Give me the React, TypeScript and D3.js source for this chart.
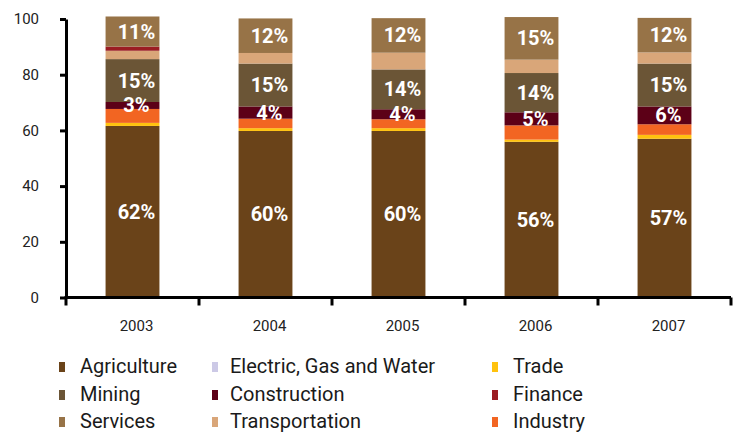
import React, { useEffect, useRef } from "react";
import * as d3 from "d3";

// values (% share of each sector per year)
const years = ["2003", "2004", "2005", "2006", "2007"];
const agriculture = [61.6, 59.8, 59.8, 55.9, 57.0];
const trade = [1.1, 1.0, 1.0, 0.8, 1.4];
const electricGasWater = [0, 0, 0, 0, 0];
const industry = [5.0, 3.4, 3.2, 5.1, 3.8];
const construction = [2.5, 4.4, 3.6, 4.7, 6.4];
const mining = [15.4, 15.4, 14.3, 14.1, 15.4];
const transportation = [3.0, 3.8, 6.0, 4.8, 4.0];
const finance = [1.5, 0, 0, 0, 0];
const services = [10.8, 12.4, 12.4, 15.3, 12.4];

// bottom -> top stacking order
const sectors = [
  "Agriculture",
  "Trade",
  "Electric, Gas and Water",
  "Industry",
  "Construction",
  "Mining",
  "Transportation",
  "Finance",
  "Services",
];
const sectorValues = [
  agriculture,
  trade,
  electricGasWater,
  industry,
  construction,
  mining,
  transportation,
  finance,
  services,
];
const sectorColors = [
  "#6a4319",
  "#ffc20e",
  "#ccc9e6",
  "#f26522",
  "#5c0017",
  "#6b5536",
  "#d9a679",
  "#9b1c22",
  "#977347",
];
const labelledSectors = ["Agriculture", "Construction", "Mining", "Services"];
const yTicks = [0, 20, 40, 60, 80, 100];

const legendRows = [
  ["Agriculture", "Electric, Gas and Water", "Trade"],
  ["Mining", "Construction", "Finance"],
  ["Services", "Transportation", "Industry"],
];

const W = 733;
const H = 432;
const FONT = "Roboto, 'DejaVu Sans', sans-serif";

export default function App() {
  const ref = useRef<SVGSVGElement | null>(null);

  useEffect(() => {
    if (!ref.current) return;
    const svg = d3.select(ref.current);
    svg.selectAll("*").remove();

    const x = d3.scaleBand<string>().domain(years).range([66, 731]);
    const y = d3.scaleLinear().domain([0, 100]).range([297.5, 19]);
    const color = d3.scaleOrdinal<string, string>().domain(sectors).range(sectorColors);

    const rows = years.map((yr, i) => {
      const r: any = { year: yr };
      sectors.forEach((s, k) => (r[s] = sectorValues[k][i]));
      return r;
    });
    const series = d3.stack<any>().keys(sectors)(rows);

    const barW = x.bandwidth() * 0.405;
    const bx = (yr: string) => (x(yr) as number) + (x.bandwidth() - barW) / 2;

    // ===== bars =====
    const g = svg.append("g");
    series.forEach(layer => {
      g.selectAll(null)
        .data(layer.filter(d => d[1] - d[0] > 0))
        .join("rect")
        .attr("x", d => bx(d.data.year))
        .attr("y", d => y(d[1]))
        .attr("width", barW)
        .attr("height", d => y(d[0]) - y(d[1]))
        .attr("fill", color(layer.key));
    });

    // ===== value labels =====
    series
      .filter(layer => labelledSectors.includes(layer.key))
      .forEach(layer => {
        g.selectAll(null)
          .data(layer)
          .join("text")
          .attr("x", d => bx(d.data.year) + barW / 2 + 4)
          .attr("y", d => y((d[0] + d[1]) / 2))
          .attr("dy", "0.35em")
          .attr("text-anchor", "middle")
          .style("font-family", FONT)
          .style("font-weight", "bold")
          .style("font-size", "20px")
          .style("fill", "#fff")
          .text(d => `${Math.round(d[1] - d[0])}%`);
      });

    // ===== y axis =====
    const yAxis = svg
      .append("g")
      .attr("transform", "translate(66,0)")
      .call(
        d3.axisLeft(y).tickValues(yTicks).tickSize(6).tickSizeOuter(0).tickPadding(21)
      );
    yAxis.select(".domain").attr("stroke", "#000").attr("stroke-width", 3);
    yAxis.selectAll(".tick line").attr("stroke", "#000").attr("stroke-width", 3);
    yAxis
      .selectAll(".tick text")
      .style("font-family", FONT)
      .style("font-size", "15px")
      .style("fill", "#222");

    // ===== x axis =====
    const xAxis = svg
      .append("g")
      .attr("transform", `translate(0,${y(0)})`)
      .call(d3.axisBottom(x).tickSize(0).tickPadding(23));
    xAxis.select(".domain").remove();
    xAxis
      .selectAll(".tick text")
      .attr("dx", 4)
      .style("font-family", FONT)
      .style("font-size", "15px")
      .style("fill", "#222");

    const [x0, x1] = x.range();
    svg
      .append("line")
      .attr("x1", x0 - 1.5)
      .attr("x2", x1)
      .attr("y1", y(0))
      .attr("y2", y(0))
      .attr("stroke", "#000")
      .attr("stroke-width", 3);

    const bounds = [...years.map(yr => x(yr) as number), x1];
    svg
      .append("g")
      .selectAll("line")
      .data(bounds)
      .join("line")
      .attr("x1", d => d)
      .attr("x2", d => d)
      .attr("y1", y(0))
      .attr("y2", y(0) + 8)
      .attr("stroke", "#000")
      .attr("stroke-width", 3);

    // ===== legend =====
    const markerX = [59, 212, 492];
    const textX = [80, 230, 513];
    const rowBase = [372.5, 400.5, 427.5];
    const legend = svg.append("g");
    legendRows.forEach((row, r) => {
      row.forEach((name, c) => {
        legend
          .append("rect")
          .attr("x", markerX[c])
          .attr("y", rowBase[r] - 10.5)
          .attr("width", 6)
          .attr("height", 10)
          .attr("fill", color(name));
        legend
          .append("text")
          .attr("x", textX[c])
          .attr("y", rowBase[r])
          .style("font-family", FONT)
          .style("font-size", "20px")
          .style("fill", "#1a1a1a")
          .text(name);
      });
    });
  }, []);

  return (
    <svg
      ref={ref}
      width={W}
      height={H}
      style={{ position: "absolute", left: 0, top: 0, background: "#fff" }}
    />
  );
}
